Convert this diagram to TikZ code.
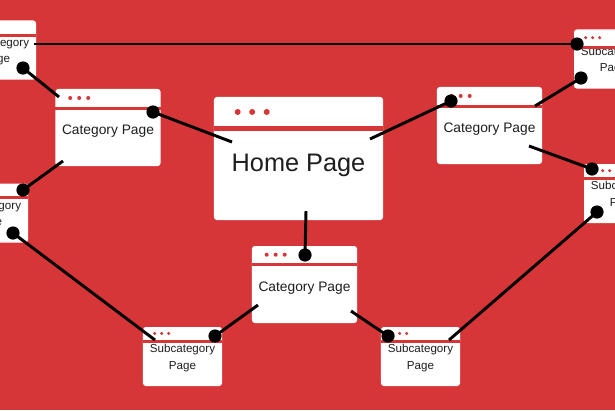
\documentclass[tikz,border=0pt]{standalone}
\usepackage{fontspec}
\setmainfont{Liberation Sans}
\usetikzlibrary{calc}
\definecolor{bg}{RGB}{214,54,56}
\definecolor{ink}{RGB}{30,30,30}

\begin{document}
\begin{tikzpicture}[x=0.025cm, y=-0.025cm,
    page/.style={fill=white, rounded corners=2pt, inner sep=0pt, align=center, text=ink},
    home/.style={page, minimum width=4.225cm, minimum height=3.075cm,
        font=\fontsize{18}{22}\selectfont, text height=22pt},
    cat/.style={page, minimum width=2.625cm, minimum height=1.925cm,
        font=\fontsize{9.8}{12}\selectfont, text height=12pt},
    sub/.style={page, minimum width=1.975cm, minimum height=1.475cm,
        font=\fontsize{8.25}{11.4}\selectfont, text height=19.8pt, text depth=2pt},
    link/.style={line width=2.1pt, black},
    knob/.style={circle, fill=black, inner sep=0pt, minimum size=0.33cm}]
    \useasboundingbox (0,0) rectangle (615,410);
    \clip (0,0) rectangle (615,410);
    \fill[bg] (0,0) rectangle (615,410);

    % pages
    \node[home] (hp) at (298.5,158.5) {Home Page};
    \node[cat] (cl) at (108,127.5) {Category Page};
    \node[cat] (cr) at (489.5,125.5) {Category Page};
    \node[cat] (cc) at (304.5,284.5) {Category Page};
    \node[sub] (stl) at (-3.5,50) {Subcategory\\Page};
    \node[sub] (str) at (613.5,59) {Subcategory\\Page};
    \node[sub] (sml) at (-11.5,213) {Subcategory\\Page};
    \node[sub] (smr) at (623.5,193.5) {Subcategory\\Page};
    \node[sub] (sbl) at (182.5,356.5) {Subcategory\\Page};
    \node[sub] (sbr) at (420.5,356.5) {Subcategory\\Page};

    % header stripe and window dots
    \foreach \n/\h/\t/\a/\s/\r in {hp/31.5/5/24/14.5/3, cl/19.5/3/15/9/2, cr/19.5/3/15/9/2,
        cc/19/3/15/9/2, stl/15/3/12/7/1.7, str/18/3/12/7/1.7, sml/14.5/3/12/7/1.7,
        smr/15/3/12/7/1.7, sbl/14.5/3/12/7/1.7, sbr/14.5/3/12/7/1.7} {
        \draw[bg, line width=\t*0.71pt] ($(\n.north west)+(0,\h)$) -- ($(\n.north east)+(0,\h)$);
        \foreach \i in {0,1,2}
            \fill[bg] ($(\n.north west)+(\a+\i*\s,\h/2-0.5)$) circle[radius=\r];
    }

    % link ends
    \coordinate (t1) at (34,44);
    \coordinate (t2) at (59,97);
    \coordinate (t3) at (232,142);
    \coordinate (t4) at (370,139);
    \coordinate (t5) at (535,106);
    \coordinate (t6) at (529,146);
    \coordinate (t7) at (449,340);
    \coordinate (t8) at (306,211);
    \coordinate (t9) at (258,305);
    \coordinate (t10) at (351,311);
    \coordinate (t11) at (155,340);
    \coordinate (t12) at (63,161);

    \node[knob] (k1) at (577,44) {};
    \node[knob] (k2) at (23,68) {};
    \node[knob] (k3) at (153,112) {};
    \node[knob] (k4) at (451,101) {};
    \node[knob] (k5) at (581,78) {};
    \node[knob] (k6) at (592,169) {};
    \node[knob] (k7) at (597,212) {};
    \node[knob] (k8) at (305,255) {};
    \node[knob] (k9) at (215,336) {};
    \node[knob] (k10) at (388,336) {};
    \node[knob] (k11) at (13,233) {};
    \node[knob] (k12) at (23,190) {};

    \draw[link] (t1) -- (k1.center);
    \draw[link] (k2.center) -- (t2);
    \draw[link] (k3.center) -- (t3);
    \draw[link] (t4) -- (k4.center);
    \draw[link] (t5) -- (k5.center);
    \draw[link] (t6) -- (k6.center);
    \draw[link] (k7.center) -- (t7);
    \draw[link] (t8) -- (k8.center);
    \draw[link] (t9) -- (k9.center);
    \draw[link] (t10) -- (k10.center);
    \draw[link] (k11.center) -- (t11);
    \draw[link] (t12) -- (k12.center);
\end{tikzpicture}
\end{document}
